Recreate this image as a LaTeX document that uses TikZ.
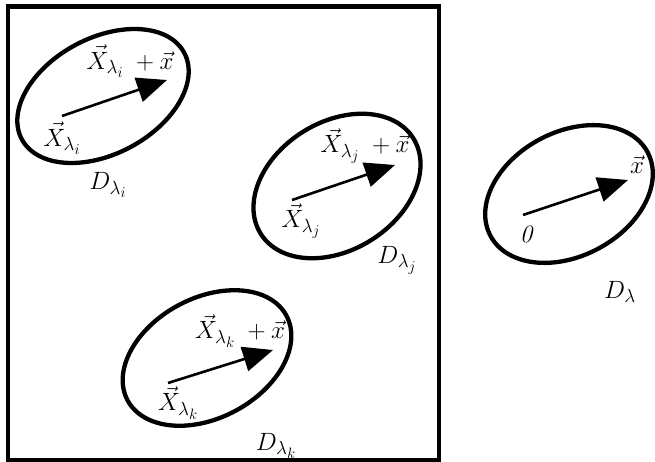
\documentclass[tikz,border=0pt]{standalone}
\usepackage{fix-cm}
\usetikzlibrary{shapes.geometric,arrows.meta}
\DeclareMathSizes{25}{25}{19}{15}
\begin{document}
\begin{tikzpicture}[x=1pt,y=-1pt,
  region/.style={draw,ellipse,line width=4.3pt,inner sep=0pt},
  vec/.style={line width=2.6pt,-{Triangle[length=30pt,width=25pt]}},
  lab/.style={inner sep=0pt,font=\fontsize{25}{28}\selectfont}]
\useasboundingbox (0,0) rectangle (655,462);
\draw[line width=4.5pt] (8,6.5) rectangle (439,460);
% region i
\node[region,minimum width=184pt,minimum height=116pt,rotate=28] (Ei) at (103,96) {};
\coordinate (ai) at (62,116);
\coordinate (bi) at (167,80);
\draw[vec] (ai) -- (bi);
\node[lab] (ti) at (130,61) {$\vec{X}_{\lambda_i}\;+\vec{x}$};
\node[lab] (si) at (62,138) {$\vec{X}_{\lambda_i}$};
\node[lab] (di) at (108,185) {$D_{\lambda_i}$};
% region j
\node[region,minimum width=180pt,minimum height=128pt,rotate=32] (Ej) at (337,186) {};
\coordinate (aj) at (292,200);
\coordinate (bj) at (395,165);
\draw[vec] (aj) -- (bj);
\node[lab] (tj) at (365,146) {$\vec{X}_{\lambda_j}\;+\vec{x}$};
\node[lab] (sj) at (301,221) {$\vec{X}_{\lambda_j}$};
\node[lab] (dj) at (397,260) {$D_{\lambda_j}$};
% region k
\node[region,minimum width=180pt,minimum height=120pt,rotate=28] (Ek) at (207,358) {};
\coordinate (ak) at (168,383);
\coordinate (bk) at (273,350);
\draw[vec] (ak) -- (bk);
\node[lab] (tk) at (240,331) {$\vec{X}_{\lambda_k}\;+\vec{x}$};
\node[lab] (sk) at (178,403) {$\vec{X}_{\lambda_k}$};
\node[lab] (dk) at (276,446) {$D_{\lambda_k}$};
% region lambda
\node[region,minimum width=178pt,minimum height=124pt,rotate=28] (El) at (569,194) {};
\coordinate (al) at (523,215);
\coordinate (bl) at (628,180);
\draw[vec] (al) -- (bl);
\node[lab] (xl) at (637,165) {$\vec{x}$};
\node[lab] (ol) at (526,234) {\itshape 0};
\node[lab] (dl) at (620,292) {$D_{\lambda}$};
\end{tikzpicture}
\end{document}
